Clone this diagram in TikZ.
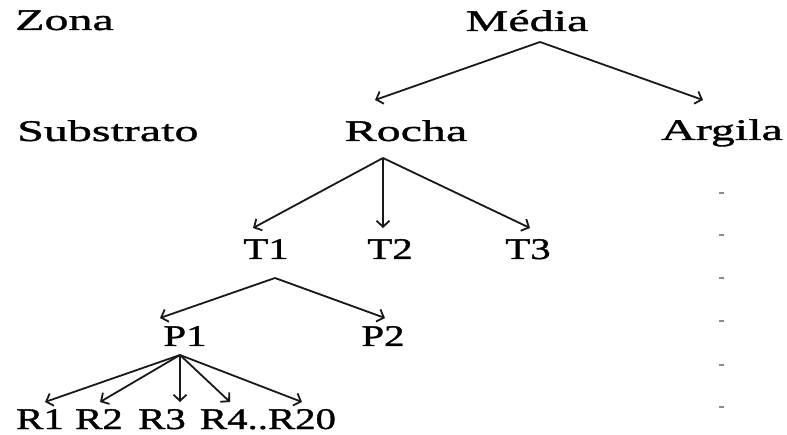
\documentclass[tikz,border=0pt]{standalone}
\usepackage{fontspec}
\setmainfont[FakeStretch=1.6,FakeBold=1.2]{Liberation Serif}
\newfontfamily\narrowserif[FakeStretch=1.36,FakeBold=1.2]{Liberation Serif}
\usetikzlibrary{arrows.meta}
\begin{document}
\begin{tikzpicture}[x=1pt,y=-1pt,
  lbl/.style={inner sep=0pt,anchor=base,font=\fontsize{30}{30}\selectfont},
  lblw/.style={lbl,anchor=base west},
  nlbl/.style={lbl,font=\narrowserif\fontsize{30}{30}\selectfont},
  arr/.style={line width=1.8pt,draw=black!90,-{Straight Barb[length=6pt,width=13pt,line width=1.8pt]}},
  dotmark/.style={fill=black!45,draw=none,minimum width=5pt,minimum height=2pt,inner sep=0pt}]
\useasboundingbox (0,0) rectangle (787,435);
% labels
\node[lblw] (zona) at (15,30) {Zona};
\node[lbl] (media) at (527,31) {Média};
\node[lblw] (substrato) at (17,141) {Substrato};
\node[lbl] (rocha) at (406,141) {Rocha};
\node[lbl] (argila) at (722,140) {Argila};
\node[nlbl] (t1) at (266,259) {T1};
\node[nlbl] (t2) at (390,259) {T2};
\node[nlbl] (t3) at (528,259) {T3};
\node[nlbl] (p1) at (185,346) {P1};
\node[nlbl] (p2) at (383,346) {P2};
\node[nlbl] (r1) at (40,429) {R1};
\node[nlbl] (r2) at (99,429) {R2};
\node[nlbl] (r3) at (162,429) {R3};
\node[nlbl] (r4) at (268,429) {R4..R20};
% arrow anchor points
\coordinate (mediaS) at (540,42);
\coordinate (rochaN) at (375,100);
\coordinate (argilaN) at (703,100);
\coordinate (rochaS) at (383,158);
\coordinate (t1N) at (253,228);
\coordinate (t2N) at (383,228);
\coordinate (t3N) at (530,228);
\coordinate (t1S) at (275,278);
\coordinate (p1N) at (160,318);
\coordinate (p2N) at (385,318);
\coordinate (p1S) at (180,355);
\coordinate (r1N) at (45,402);
\coordinate (r2N) at (100,402);
\coordinate (r3N) at (180,402);
\coordinate (r4N) at (230,402);
\coordinate (r20N) at (302,402);
% arrows
\draw[arr] (mediaS) -- (rochaN);
\draw[arr] (mediaS) -- (argilaN);
\draw[arr] (rochaS) -- (t1N);
\draw[arr] (rochaS) -- (t2N);
\draw[arr] (rochaS) -- (t3N);
\draw[arr] (t1S) -- (p1N);
\draw[arr] (t1S) -- (p2N);
\draw[arr] (p1S) -- (r1N);
\draw[arr] (p1S) -- (r2N);
\draw[arr] (p1S) -- (r3N);
\draw[arr] (p1S) -- (r4N);
\draw[arr] (p1S) -- (r20N);
% dots
\foreach \yy [count=\i] in {193,235,278,321,365,407}
  \node[dotmark] (d\i) at (721,\yy) {};
\end{tikzpicture}
\end{document}
